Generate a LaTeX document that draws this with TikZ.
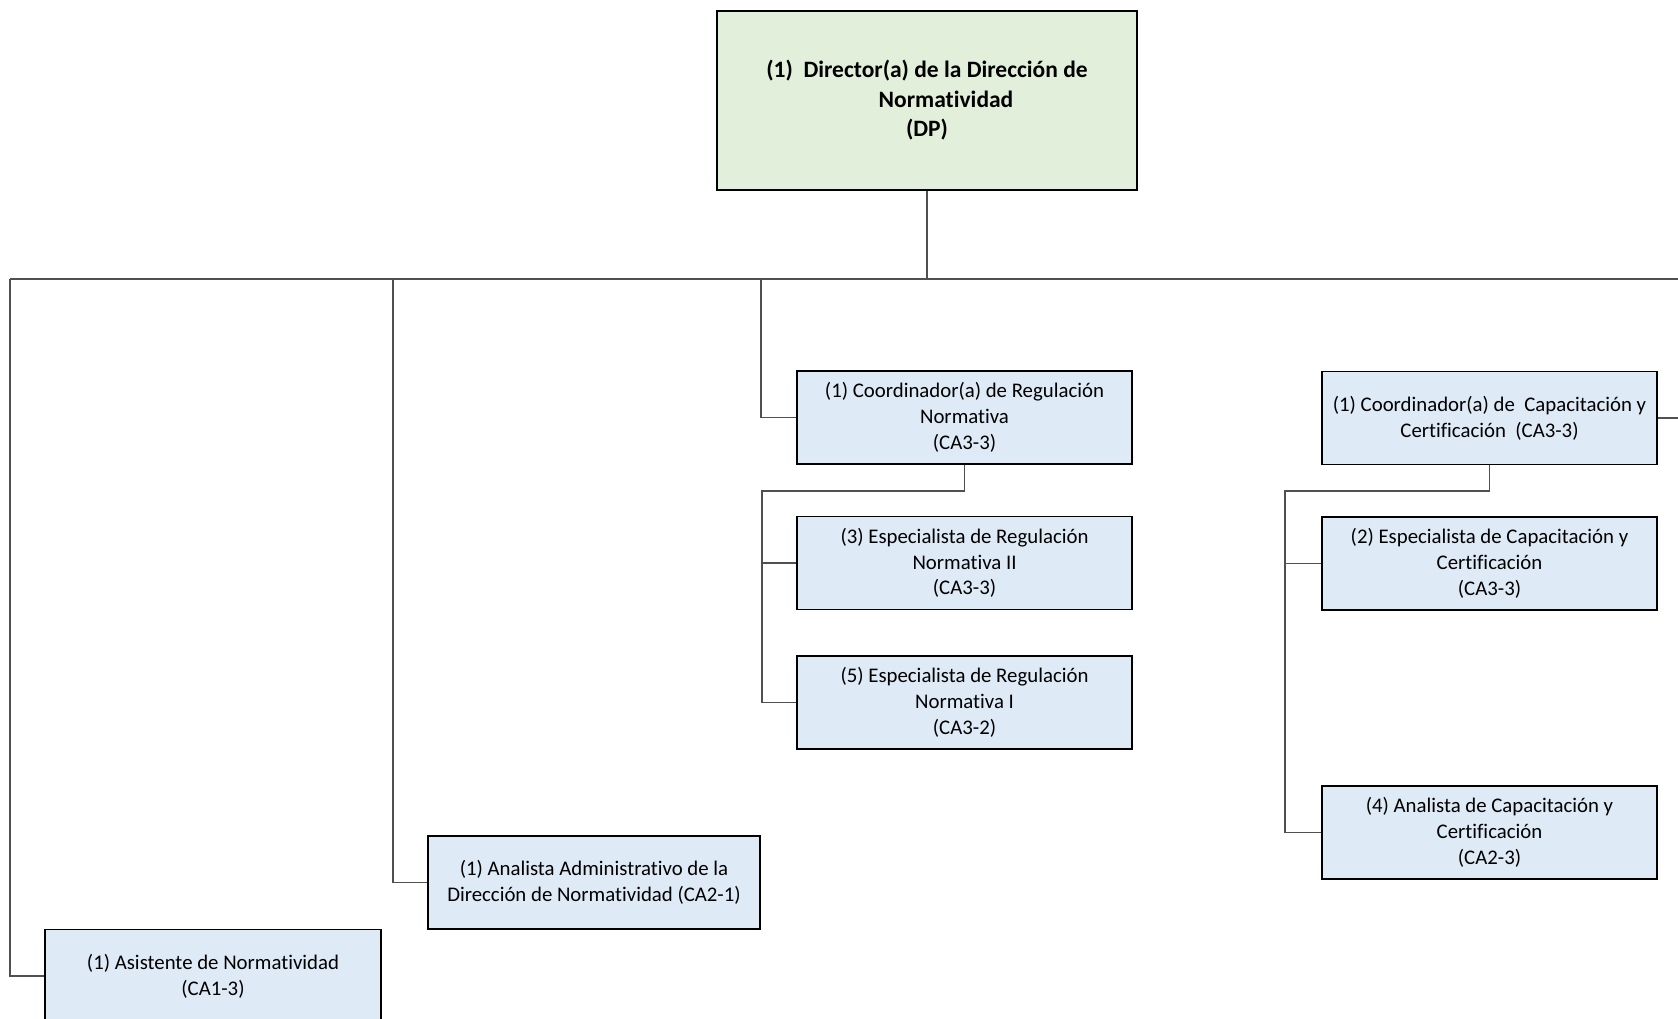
\documentclass[tikz,border=0pt]{standalone}
\usepackage{fontspec}
\setmainfont[Ligatures=NoCommon]{Carlito}
\definecolor{boxblue}{HTML}{DEEAF6}
\definecolor{boxgreen}{HTML}{E2EFDA}
\definecolor{linegray}{HTML}{505050}
\begin{document}
\begin{tikzpicture}[x=1pt,y=-1pt,
  box/.style={draw=black,line width=1.6pt,fill=boxblue,align=center,inner sep=0pt,
    minimum width=335pt,minimum height=93pt,font=\fontsize{20.8}{25.8}\selectfont},
  dirbox/.style={box,fill=boxgreen,minimum width=420pt,minimum height=179pt,
    font=\fontsize{23.5}{29.5}\selectfont\bfseries},
  conn/.style={draw=linegray,line width=1.1pt}]
\useasboundingbox (0,0) rectangle (1678,1019);
\clip (0,0) rectangle (1678,1019);
\node[dirbox] (dir) at (927,100.5) {(1)\ \ Director(a) de la Dirección de\\\hspace*{38pt}Normatividad\\(DP)};
\node[box] (creg) at (964.5,417.5) {(1) Coordinador(a) de Regulación\\Normativa\\(CA3-3)};
\node[box] (esp2) at (964.5,563) {(3) Especialista de Regulación\\Normativa II\\(CA3-3)};
\node[box] (esp1) at (964.5,702.5) {(5) Especialista de Regulación\\Normativa I\\(CA3-2)};
\node[box] (ccap) at (1489.5,418) {(1) Coordinador(a) de\ \ Capacitación y\\Certificación\ \ (CA3-3)};
\node[box] (ecap) at (1489.5,563.5) {(2) Especialista de Capacitación y\\Certificación\\(CA3-3)};
\node[box] (acap) at (1489.5,832.5) {(4) Analista de Capacitación y\\Certificación\\(CA2-3)};
\node[box,minimum width=332pt] (adm) at (594,882.5) {(1) Analista Administrativo de la\\Dirección de Normatividad (CA2-1)};
\node[box,minimum width=336pt] (asis) at (213,976) {(1) Asistente de Normatividad\\(CA1-3)};
\coordinate (hl) at (10,279);
\coordinate (hr) at (1678,279);
\coordinate (hub) at (927,279);
\coordinate (dadm) at (393,279);
\coordinate (dreg) at (761,279);
\coordinate (rreg) at (762,491);
\coordinate (rcap) at (1285,491);
\coordinate (ccapout) at (1678,418);
\draw[conn] (dir.south) -- (hub);
\draw[conn] (hl) -- (hr);
\draw[conn] (hl) |- (asis.west);
\draw[conn] (dadm) |- (adm.west);
\draw[conn] (dreg) |- (creg.west);
\draw[conn] (creg.south) |- (rreg) |- (esp1.west);
\draw[conn] (rreg |- esp2.west) -- (esp2.west);
\draw[conn] (ccap.south) |- (rcap) |- (acap.west);
\draw[conn] (rcap |- ecap.west) -- (ecap.west);
\draw[conn] (ccap.east) -- (ccapout);
\end{tikzpicture}
\end{document}
